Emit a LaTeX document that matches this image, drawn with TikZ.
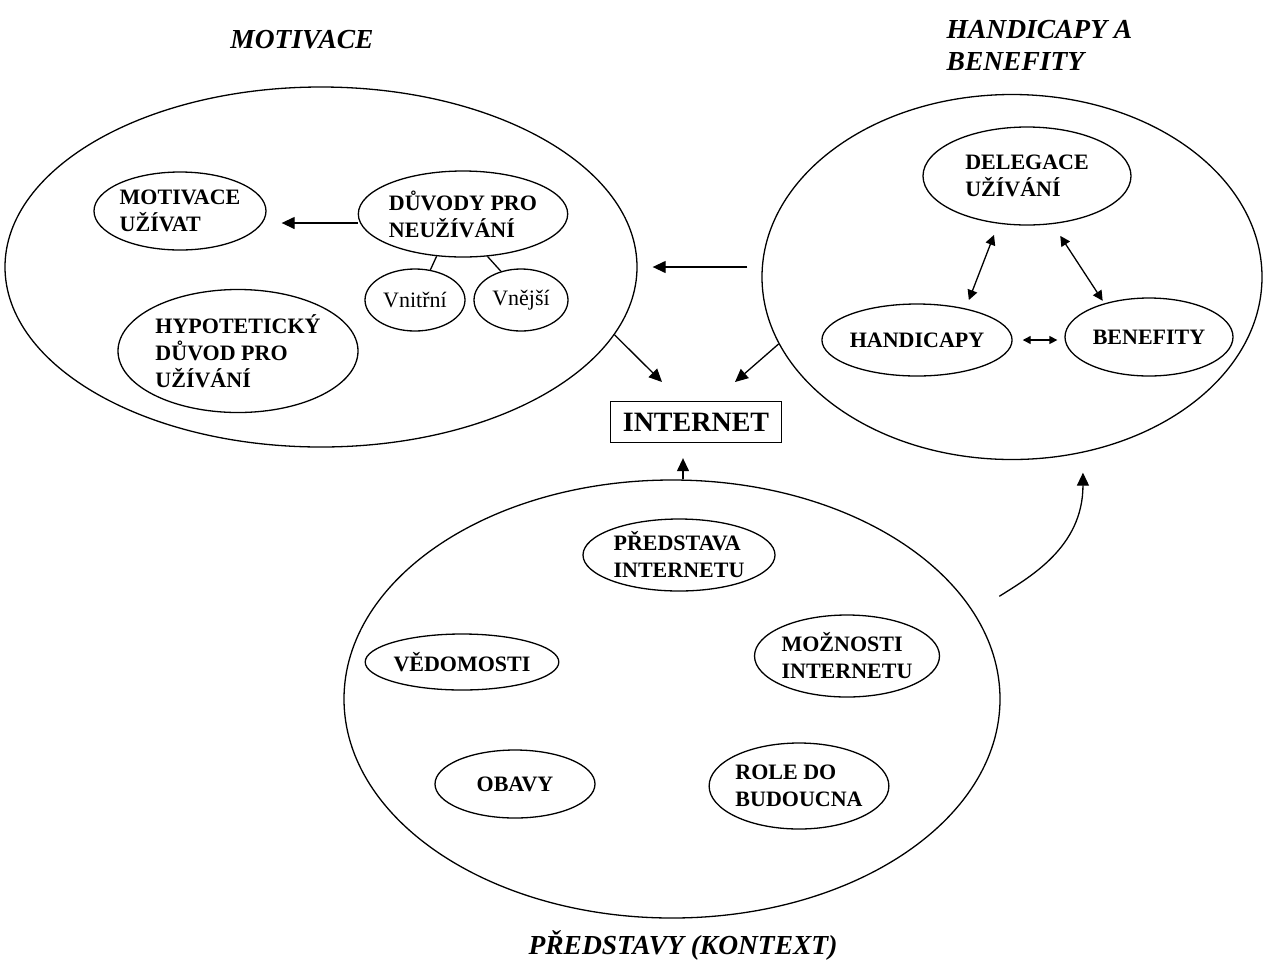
\documentclass[tikz,border=0pt]{standalone}
\usepackage{fontspec}
\setmainfont{Liberation Serif}
\usetikzlibrary{shapes.geometric,arrows.meta}

\tikzset{every picture/.style={line width=1.3pt}}

\begin{document}
\begin{tikzpicture}[x=1pt,y=1pt,yscale=-1,xscale=1,
  velka/.style={draw, ellipse, inner sep=0pt},
  mala/.style={draw, ellipse, inner sep=0pt, align=left, font=\fontsize{22}{27}\selectfont\bfseries},
  drobna/.style={draw, ellipse, inner sep=0pt, font=\fontsize{22}{27}\selectfont},
  nadpis/.style={inner sep=0pt, align=left, font=\fontsize{27.5}{32}\selectfont\bfseries\itshape},
  sip/.style={-{Triangle[length=13pt,width=12pt]}},
  dsip/.style={{Triangle[length=10pt,width=10pt]}-{Triangle[length=10pt,width=10pt]}},
  msip/.style={{Triangle[length=8pt,width=8pt]}-{Triangle[length=8pt,width=8pt]}}]
\useasboundingbox (0,0) rectangle (1263,970);

%Big ellipses
\node [velka, minimum width=632pt, minimum height=360pt] (motivace) at (321,267) {};
\node [velka, minimum width=500pt, minimum height=365pt] (handicapy) at (1012,277) {};
\node [velka, minimum width=656pt, minimum height=438pt] (predstavy) at (672,699) {};

%Titles
\node [nadpis] (tmotivace) at (302,40) {MOTIVACE};
\node [nadpis, anchor=west] (thandicapy) at (946,45) {HANDICAPY A\\BENEFITY};
\node [nadpis] (tpredstavy) at (683,945) {PŘEDSTAVY (KONTEXT)};

%Motivace
\node [mala, minimum width=172pt, minimum height=78pt] (motuzivat) at (180,211) {MOTIVACE\\UŽÍVAT};
\node [mala, minimum width=203pt, minimum height=86pt] (duvody) at (463,214) {DŮVODY PRO\\NEUŽÍVÁNÍ};
\node [drobna, minimum width=100pt, minimum height=62pt] (vnitrni) at (415,300) {Vnitřní};
\node [drobna, minimum width=94pt, minimum height=62pt] (vnejsi) at (521,300) {Vnější};
\node [mala, minimum width=240pt, minimum height=123pt] (hypo) at (238,351) {HYPOTETICKÝ\\DŮVOD PRO\\UŽÍVÁNÍ};

%Handicapy a benefity
\node [mala, minimum width=208pt, minimum height=98pt] (delegace) at (1027,176) {DELEGACE\\UŽÍVÁNÍ};
\node [mala, minimum width=188pt, minimum height=72pt] (handic) at (917,340) {HANDICAPY};
\node [mala, minimum width=168pt, minimum height=78pt] (benef) at (1149,337) {BENEFITY};

%Internet
\node [draw, inner sep=0pt, minimum width=171pt, minimum height=41pt, font=\fontsize{28}{32}\selectfont\bfseries] (internet) at (696,422) {INTERNET};

%Predstavy
\node [mala, minimum width=192pt, minimum height=72pt] (predint) at (679,555) {PŘEDSTAVA\\INTERNETU};
\node [mala, minimum width=150pt, minimum height=56pt] (vedomosti) at (462,662) {VĚDOMOSTI};
\node [mala, minimum width=171pt, minimum height=82pt] (moznosti) at (847,656) {MOŽNOSTI\\INTERNETU};
\node [mala, minimum width=160pt, minimum height=68pt] (obavy) at (515,784) {OBAVY};
\node [mala, minimum width=162pt, minimum height=86pt] (role) at (799,786) {ROLE DO\\BUDOUCNA};

\coordinate (inL) at (662,382);
\coordinate (inR) at (735,382);

%Arrows
\draw [sip, shorten >=15pt] ([yshift=9pt]duvody.west) -- ([yshift=9pt]duvody.west -| motuzivat.east);
\draw (duvody.-122) -- (vnitrni.63);
\draw (duvody.-60) -- (vnejsi.125);
\draw [sip, shorten <=14pt, shorten >=15pt] (handicapy.west |- motivace.east) -- (motivace.east);
\draw [sip] (motivace.-13) -- (inL);
\draw [sip] (handicapy.196) -- (inR);
\draw [sip, shorten >=15pt] ([xshift=-13pt]internet.south |- predstavy.north) -- ([xshift=-13pt]internet.south);
\draw [sip, shorten <=30pt, shorten >=20pt] (predstavy.16) .. controls +(55,-35) and +(0,95) .. (handicapy.-68);
\draw [dsip, shorten <=12pt, shorten >=9pt] (delegace.-121) -- (handic.33);
\draw [dsip, shorten <=14pt, shorten >=3pt] (delegace.-62) -- (benef.143);
\draw [msip, shorten <=10pt, shorten >=7pt] (handic.east) -- (handic.east -| benef.west);

\end{tikzpicture}
\end{document}
